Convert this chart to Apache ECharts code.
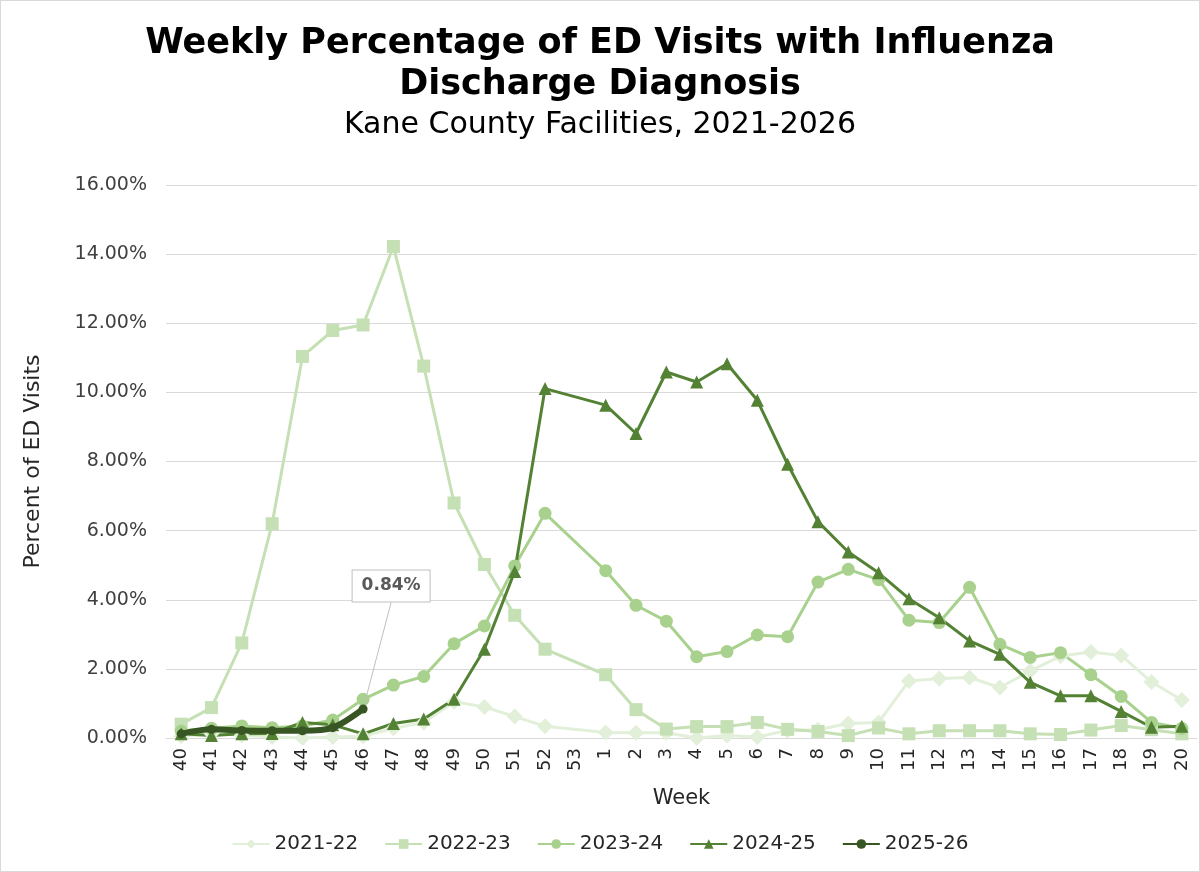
<!DOCTYPE html>
<html>
<head>
<meta charset="utf-8">
<script src="https://cdn.jsdelivr.net/npm/echarts@6/dist/echarts.min.js"></script>
<style>
  html, body { margin: 0; padding: 0; background: #fff; }
  #main { width: 1200px; height: 872px; box-sizing: border-box; border: 1px solid #d9d9d9; }
</style>
</head>
<body>
<div id="main"></div>
<script>
// weeks of the flu season, 53 has no data this time round
const weeks = ["40","41","42","43","44","45","46","47","48","49","50","51","52","53",
  "1","2","3","4","5","6","7","8","9","10","11","12","13","14","15","16","17","18","19","20"];

const seasons = ["2021-22", "2022-23", "2023-24", "2024-25", "2025-26"];

const s2122 = [0.05,0.12,0.08,0.03,0.0,0.03,0.05,0.28,0.45,1.05,0.90,0.62,0.34,null,
  0.16,0.15,0.15,0.0,0.07,0.03,0.22,0.24,0.42,0.45,1.65,1.72,1.75,1.46,1.94,2.37,2.49,2.39,1.62,1.10];
const s2223 = [0.40,0.88,2.75,6.20,11.04,11.79,11.95,14.22,10.76,6.80,5.02,3.55,2.57,null,
  1.83,0.82,0.26,0.33,0.33,0.45,0.25,0.19,0.07,0.29,0.12,0.21,0.21,0.21,0.12,0.10,0.23,0.36,0.24,0.12];
const s2324 = [0.20,0.28,0.35,0.30,0.35,0.52,1.12,1.53,1.78,2.73,3.24,4.98,6.50,null,
  4.84,3.84,3.38,2.35,2.50,2.98,2.93,4.51,4.88,4.58,3.41,3.34,4.36,2.71,2.33,2.47,1.83,1.20,0.45,0.28];
const s2425 = [0.12,0.07,0.12,0.13,0.45,0.38,0.12,0.42,0.55,1.12,2.57,4.82,10.11,null,
  9.63,8.81,10.59,10.30,10.83,9.77,7.92,6.26,5.38,4.78,4.03,3.48,2.81,2.42,1.61,1.22,1.22,0.77,0.31,0.34];
const s2526 = [0.12,0.25,0.22,0.21,0.21,0.30,0.84];

const yTicks = [0, 2, 4, 6, 8, 10, 12, 14, 16];

const colors = ["#e2efd9", "#c5e0b4", "#a9d18e", "#548235", "#375623"];

var myChart = echarts.init(document.getElementById("main"));

// last point of the current season gets the callout label
const lastIdx = s2526.length - 1;
const current = s2526.map((v, i) => i === lastIdx ? {
  value: v,
  label: {
    show: true,
    position: "top",
    formatter: (p) => p.value.toFixed(2) + "%",
    fontFamily: "DejaVu Sans",
    fontWeight: "bold",
    fontSize: 17,
    color: "#595959",
    backgroundColor: "#fff",
    borderColor: "#bfbfbf",
    borderWidth: 1,
    padding: [7, 9]
  }
} : v);

function line(name, data, color, symbol, size, width) {
  return {
    name: name,
    type: "line",
    data: data,
    connectNulls: true,
    symbol: symbol,
    symbolSize: size,
    color: color,
    lineStyle: { color: color, width: width },
    itemStyle: { color: color },
    emphasis: { disabled: true },
    z: 2
  };
}

var option = {
  animation: false,
  textStyle: { fontFamily: "DejaVu Sans" },
  title: {
    text: "Weekly Percentage of ED Visits with Influenza\nDischarge Diagnosis",
    subtext: "Kane County Facilities, 2021-2026",
    left: "center",
    top: 17,
    itemGap: 5,
    textStyle: { fontFamily: "DejaVu Sans", fontWeight: "bold", fontSize: 35, lineHeight: 41, color: "#000" },
    subtextStyle: { fontFamily: "DejaVu Sans", fontSize: 30, color: "#000" }
  },
  legend: {
    bottom: 12,
    left: "center",
    itemGap: 26,
    itemWidth: 37,
    itemHeight: 12,
    textStyle: { fontFamily: "DejaVu Sans", fontSize: 20, color: "#262626" },
    data: seasons
  },
  grid: { left: 165, right: 2, top: 184, bottom: 133 },
  xAxis: {
    type: "category",
    data: weeks,
    name: "Week",
    nameLocation: "middle",
    nameGap: 50,
    nameTextStyle: { fontSize: 21, color: "#262626" },
    axisTick: { show: false },
    axisLine: { lineStyle: { color: "#d9d9d9", width: 1 } },
    axisLabel: { rotate: 90, fontSize: 18, color: "#262626", margin: 10, interval: 0 }
  },
  yAxis: {
    type: "value",
    min: yTicks[0],
    max: yTicks[yTicks.length - 1],
    interval: 2,
    name: "Percent of ED Visits",
    nameLocation: "middle",
    nameGap: 122,
    nameTextStyle: { fontSize: 22, color: "#262626" },
    axisLabel: { formatter: (v) => v.toFixed(2) + "%", fontSize: 19, color: "#404040", margin: 19 },
    splitLine: { lineStyle: { color: "#d9d9d9", width: 1 } }
  },
  series: [
    line(seasons[0], s2122, colors[0], "diamond", 16, 3),
    line(seasons[1], s2223, colors[1], "rect", 13, 3),
    line(seasons[2], s2324, colors[2], "circle", 13, 3),
    line(seasons[3], s2425, colors[3], "triangle", 13, 3),
    Object.assign(line(seasons[4], current, colors[4], "circle", 9, 6), {
      smooth: 0.3,
      z: 5,
      labelLine: { show: true, lineStyle: { color: "#bfbfbf", width: 1 } },
      labelLayout: { dx: 28, dy: -98 }
    })
  ]
};

option && myChart.setOption(option);
</script>
</body>
</html>
